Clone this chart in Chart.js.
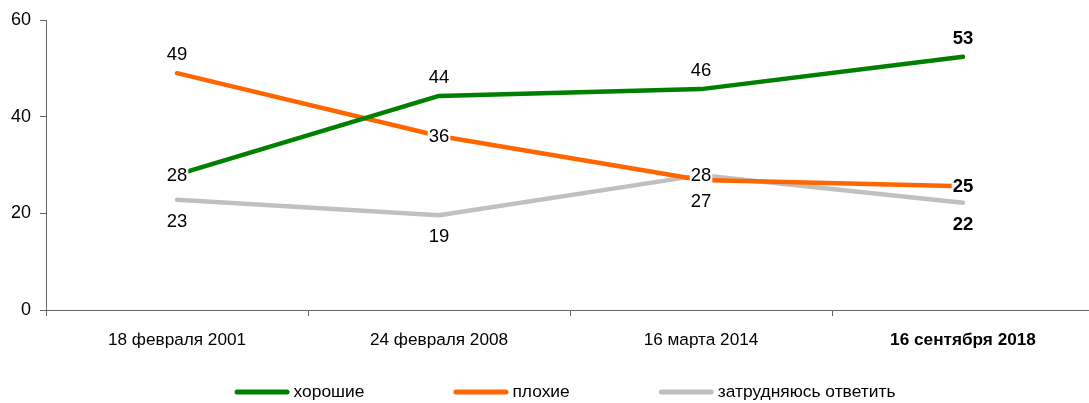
<!DOCTYPE html>
<html><head><meta charset="utf-8">
<script src="https://cdn.jsdelivr.net/npm/chart.js@4/dist/chart.umd.min.js"></script>
<style>html,body{margin:0;padding:0;overflow:hidden;background:#fff}#wrap{width:1094px;height:403px;position:relative}</style>
</head><body><div id="wrap"><canvas id="c" width="1094" height="403"></canvas></div>
<script>
const categories = ['18 февраля 2001', '24 февраля 2008', '16 марта 2014', '16 сентября 2018'];
const seriesNames = ['хорошие', 'плохие', 'затрудняюсь ответить'];
const good = [28, 44.3, 45.7, 52.4];
const bad = [49, 36, 26.9, 25.6];
const unsure = [22.8, 19.6, 27.9, 22.2];
const goodLabels = ['28', '44', '46', '53'];
const badLabels = ['49', '36', '27', '25'];
const unsureLabels = ['23', '19', '28', '22'];
const yTicks = [0, 20, 40, 60];

const FONT = '"Liberation Sans", Arial, sans-serif';
const colors = ['#008000', '#ff6600', '#c0c0c0'];
const labelSets = [goodLabels, badLabels, unsureLabels];
const placements = [
  ['center', 'above', 'above', 'above'],
  ['above', 'center', 'below', 'center'],
  ['below', 'below', 'center', 'below']
];

const dataLabelPlugin = {
  id: 'dataLabels',
  afterDatasetsDraw(chart) {
    const ctx = chart.ctx;
    ctx.save();
    chart.data.datasets.forEach((ds, di) => {
      const meta = chart.getDatasetMeta(di);
      meta.data.forEach((pt, i) => {
        const txt = labelSets[di][i];
        const pl = placements[di][i];
        const bold = i === categories.length - 1;
        ctx.font = (bold ? 'bold ' : '') + '18.5px ' + FONT;
        let y = pt.y;
        if (pl === 'above') y -= 19;
        else if (pl === 'below') y += 21;
        const w = ctx.measureText(txt).width;
        if (pl === 'center') {
          ctx.fillStyle = '#fff';
          ctx.fillRect(pt.x - w / 2 - 1, y - 8, w + 2, 16);
        }
        ctx.fillStyle = '#000';
        ctx.textAlign = 'center';
        ctx.textBaseline = 'middle';
        ctx.fillText(txt, pt.x, y + 1);
      });
    });
    ctx.restore();
  }
};

const legendPlugin = {
  id: 'customLegend',
  afterDraw(chart) {
    const ctx = chart.ctx;
    ctx.save();
    ctx.font = '17.4px ' + FONT;
    const boxW = 55, gap = 4, itemGap = 89;
    const widths = seriesNames.map(n => boxW + gap + ctx.measureText(n).width);
    const total = widths.reduce((a, b) => a + b, 0) + itemGap * (seriesNames.length - 1);
    let x = 565 - total / 2;
    const y = 392;
    seriesNames.forEach((n, i) => {
      ctx.strokeStyle = colors[i];
      ctx.lineWidth = 5;
      ctx.lineCap = 'round';
      ctx.beginPath();
      ctx.moveTo(x + 2.5, y);
      ctx.lineTo(x + boxW - 2.5, y);
      ctx.stroke();
      ctx.fillStyle = '#000';
      ctx.textAlign = 'left';
      ctx.textBaseline = 'middle';
      ctx.fillText(n, x + boxW + gap, y);
      x += widths[i] + itemGap;
    });
    ctx.restore();
  }
};

const series = [good, bad, unsure];
new Chart(document.getElementById('c'), {
  type: 'line',
  data: {
    labels: categories,
    datasets: series.map((d, i) => ({
      label: seriesNames[i],
      data: d,
      borderColor: colors[i],
      backgroundColor: colors[i],
      borderWidth: 4.5,
      pointRadius: 0,
      pointHoverRadius: 0,
      borderCapStyle: 'round',
      borderJoinStyle: 'round',
      tension: 0,
      fill: false
    }))
  },
  options: {
    responsive: false,
    animation: false,
    layout: { padding: { top: 20, left: 0, right: 0, bottom: 40 } },
    plugins: { legend: { display: false }, tooltip: { enabled: false } },
    scales: {
      x: {
        offset: true,
        afterFit(s) { s.height = 53; },
        grid: { display: true, offset: true, drawOnChartArea: false, drawTicks: true, tickLength: 6, color: '#666', lineWidth: 1 },
        border: { display: true, color: '#666', width: 1 },
        ticks: {
          padding: 14,
          color: '#000',
          font: (c) => ({ family: FONT, size: 17.2, weight: c.index === categories.length - 1 ? 'bold' : 'normal' })
        }
      },
      y: {
        min: 0, max: 60,
        afterFit(s) { s.width = 46; },
        afterBuildTicks(s) { s.ticks = yTicks.map(v => ({ value: v })); },
        grid: { display: true, drawOnChartArea: false, drawTicks: true, tickLength: 6, color: '#666', lineWidth: 1 },
        border: { display: true, color: '#666', width: 1 },
        ticks: { padding: 9, color: '#000', font: { family: FONT, size: 18 } }
      }
    }
  },
  plugins: [dataLabelPlugin, legendPlugin]
});
</script></body></html>
